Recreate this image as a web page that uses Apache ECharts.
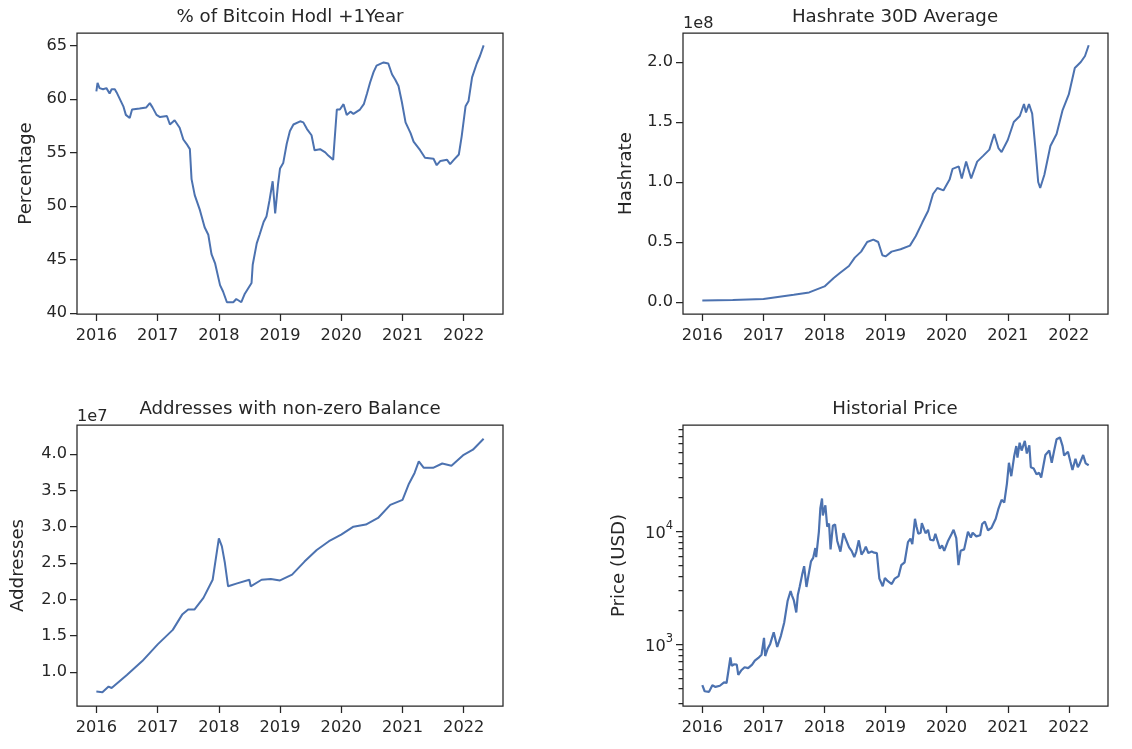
<!DOCTYPE html>
<html><head><meta charset="utf-8">
<script src="https://cdn.jsdelivr.net/npm/echarts@6/dist/echarts.min.js"></script>
<style>html,body{margin:0;padding:0;background:#fff}#c{width:1132px;height:749px}</style>
</head><body><div id="c"></div>
<script>
// ---------- data ----------
const yearTickLabels = ['2016','2017','2018','2019','2020','2021','2022'];

const hodlDates = ['2016-01-01','2016-01-08','2016-01-20','2016-02-10','2016-03-01','2016-03-20','2016-04-01','2016-04-20','2016-05-01','2016-06-10','2016-06-25','2016-07-18','2016-08-01','2016-09-15','2016-10-25','2016-11-15','2016-12-01','2016-12-25','2017-01-15','2017-02-25','2017-03-15','2017-04-12','2017-05-12','2017-06-03','2017-06-22','2017-07-12','2017-07-22','2017-08-10','2017-09-10','2017-10-08','2017-10-30','2017-11-18','2017-12-10','2018-01-08','2018-01-26','2018-02-18','2018-03-28','2018-04-15','2018-05-15','2018-06-05','2018-07-15','2018-07-22','2018-08-15','2018-09-01','2018-09-25','2018-10-12','2018-10-30','2018-11-18','2018-12-03','2018-12-20','2019-01-01','2019-01-20','2019-02-10','2019-03-01','2019-03-22','2019-05-01','2019-05-20','2019-06-10','2019-07-08','2019-07-26','2019-08-28','2019-09-28','2019-10-16','2019-11-14','2019-11-25','2019-12-06','2019-12-24','2020-01-15','2020-02-03','2020-02-25','2020-03-14','2020-04-22','2020-05-15','2020-06-03','2020-06-21','2020-07-12','2020-07-30','2020-09-10','2020-10-08','2020-10-30','2020-11-18','2020-12-08','2020-12-28','2021-01-19','2021-02-18','2021-03-08','2021-04-16','2021-05-15','2021-07-05','2021-07-24','2021-08-15','2021-09-24','2021-10-12','2021-11-03','2021-12-03','2021-12-20','2022-01-12','2022-01-30','2022-02-20','2022-03-20','2022-04-08','2022-04-30'];
const hodlValues = [60.7,61.5,61.0,60.9,61.0,60.5,60.9,60.9,60.6,59.3,58.5,58.2,59.0,59.1,59.2,59.6,59.2,58.5,58.3,58.4,57.6,58.0,57.3,56.2,55.8,55.3,52.5,51.0,49.6,48.0,47.3,45.5,44.6,42.6,42.0,41.0,41.0,41.3,41.0,41.8,42.8,44.5,46.5,47.3,48.5,49.0,50.5,52.3,49.3,52.0,53.5,54.0,55.8,57.0,57.6,57.9,57.8,57.2,56.6,55.2,55.3,55.0,54.7,54.3,54.3,59.0,59.0,59.5,58.5,58.8,58.6,59.0,59.5,60.5,61.5,62.5,63.1,63.4,63.3,62.3,61.8,61.2,59.7,57.8,56.8,56.0,55.2,54.5,54.4,53.8,54.2,54.3,53.9,54.3,54.8,56.5,59.3,59.8,62.0,63.3,64.0,65.0];
const hodlTicks = [40,45,50,55,60,65];

const hashDates = ['2016-01-01','2016-07-01','2017-01-01','2017-07-01','2017-10-01','2018-01-01','2018-02-25','2018-04-01','2018-05-27','2018-07-01','2018-08-08','2018-09-13','2018-10-20','2018-11-18','2018-12-13','2019-01-01','2019-02-06','2019-04-01','2019-05-27','2019-07-01','2019-08-08','2019-09-13','2019-10-12','2019-11-07','2019-12-13','2020-01-19','2020-02-06','2020-03-14','2020-04-01','2020-04-27','2020-05-27','2020-07-02','2020-08-08','2020-09-13','2020-10-12','2020-11-07','2020-11-25','2021-01-01','2021-02-06','2021-03-14','2021-04-08','2021-04-20','2021-05-08','2021-05-27','2021-06-14','2021-07-02','2021-07-14','2021-08-08','2021-09-13','2021-10-20','2021-11-25','2022-01-01','2022-02-06','2022-03-14','2022-04-08','2022-04-30'];
const hashValues = [1.2e6,1.6e6,2.5e6,6e6,8e6,13e6,20e6,24e6,30e6,37e6,42e6,50e6,52e6,50e6,39e6,38e6,42e6,44e6,47e6,55e6,66e6,76e6,90e6,95e6,93e6,102e6,111e6,113e6,103e6,117e6,103e6,117e6,122e6,127e6,140e6,128e6,125e6,135e6,150e6,155e6,165e6,158e6,165e6,157e6,130e6,100e6,95e6,106e6,130e6,140e6,160e6,173e6,195e6,200e6,205e6,214e6];
const hashTicks = [0, 0.5e8, 1.0e8, 1.5e8, 2.0e8];

const addrDates = ['2016-01-01','2016-02-06','2016-03-14','2016-04-01','2016-07-01','2016-10-01','2017-01-01','2017-04-01','2017-05-27','2017-07-02','2017-08-08','2017-10-01','2017-11-25','2018-01-01','2018-01-19','2018-02-06','2018-02-25','2018-04-20','2018-07-02','2018-07-10','2018-09-13','2018-11-07','2019-01-01','2019-03-14','2019-05-27','2019-08-08','2019-10-20','2020-01-01','2020-03-14','2020-05-27','2020-08-08','2020-10-20','2021-01-01','2021-02-06','2021-03-14','2021-04-08','2021-05-08','2021-07-02','2021-08-26','2021-10-20','2022-01-01','2022-02-25','2022-04-30'];
const addrValues = [7.3e6,7.2e6,8.0e6,7.8e6,9.6e6,11.5e6,13.8e6,15.8e6,17.9e6,18.6e6,18.6e6,20.2e6,22.7e6,28.4e6,27.3e6,25.0e6,21.8e6,22.2e6,22.7e6,21.8e6,22.7e6,22.8e6,22.6e6,23.4e6,25.2e6,26.8e6,28.0e6,28.9e6,30.0e6,30.3e6,31.2e6,33.0e6,33.7e6,35.8e6,37.4e6,39.0e6,38.1e6,38.1e6,38.7e6,38.4e6,39.9e6,40.6e6,42.1e6];
const addrTicks = [1.0e7,1.5e7,2.0e7,2.5e7,3.0e7,3.5e7,4.0e7];

const priceDates = ['2016-01-01','2016-01-15','2016-01-25','2016-02-10','2016-03-01','2016-03-20','2016-04-15','2016-05-10','2016-05-25','2016-06-05','2016-06-17','2016-06-25','2016-07-10','2016-07-25','2016-08-03','2016-08-20','2016-09-10','2016-10-01','2016-10-25','2016-11-10','2016-12-01','2016-12-20','2017-01-04','2017-01-11','2017-01-25','2017-02-10','2017-03-03','2017-03-24','2017-04-15','2017-05-05','2017-05-25','2017-06-12','2017-06-20','2017-07-01','2017-07-16','2017-07-25','2017-08-05','2017-08-20','2017-09-01','2017-09-15','2017-09-25','2017-10-12','2017-10-25','2017-11-07','2017-11-12','2017-11-28','2017-12-07','2017-12-17','2017-12-22','2018-01-06','2018-01-17','2018-01-28','2018-02-06','2018-02-20','2018-03-05','2018-03-18','2018-04-06','2018-04-24','2018-05-05','2018-05-28','2018-06-12','2018-06-28','2018-07-10','2018-07-25','2018-08-10','2018-08-25','2018-09-05','2018-09-20','2018-10-10','2018-10-25','2018-11-10','2018-11-20','2018-11-25','2018-12-15','2018-12-28','2019-01-15','2019-02-07','2019-02-25','2019-03-20','2019-04-05','2019-04-25','2019-05-15','2019-05-30','2019-06-10','2019-06-26','2019-07-05','2019-07-16','2019-07-30','2019-08-06','2019-08-28','2019-09-12','2019-09-25','2019-10-15','2019-10-26','2019-11-22','2019-12-05','2019-12-18','2020-01-08','2020-01-30','2020-02-12','2020-02-28','2020-03-12','2020-03-25','2020-04-15','2020-05-08','2020-05-25','2020-06-05','2020-06-27','2020-07-20','2020-08-01','2020-08-17','2020-09-05','2020-09-25','2020-10-21','2020-11-05','2020-11-25','2020-12-11','2020-12-27','2021-01-08','2021-01-22','2021-02-08','2021-02-21','2021-02-28','2021-03-13','2021-03-25','2021-04-13','2021-04-25','2021-05-10','2021-05-19','2021-06-05','2021-06-22','2021-07-08','2021-07-20','2021-08-14','2021-09-06','2021-09-21','2021-10-05','2021-10-20','2021-11-09','2021-11-25','2021-12-04','2021-12-27','2022-01-10','2022-01-23','2022-02-10','2022-02-24','2022-03-05','2022-03-28','2022-04-12','2022-04-21','2022-04-30'];
const priceValues = [430,380,390,375,430,415,425,455,450,575,760,640,660,655,530,580,620,610,655,710,750,800,1130,780,900,1000,1270,940,1180,1550,2400,2950,2700,2450,1900,2700,3200,4100,4900,3200,3900,5400,5800,7100,5900,9800,16000,19500,13800,17000,11000,11700,6900,11200,11500,8200,6600,9600,9800,7200,6700,5900,6600,8300,6200,6700,7300,6400,6600,6450,6400,4500,3800,3250,3850,3600,3400,3800,4000,5000,5300,8000,8600,7700,12900,11000,9500,9700,11800,9600,10300,8400,8300,9500,7000,7500,6700,8100,9400,10300,8700,5000,6700,6900,9900,8800,9700,9000,9200,11600,12200,10200,10700,12900,15600,19000,18000,26500,40500,30800,46000,57000,45000,61000,52000,63500,49000,58000,37000,36000,32000,33000,30000,47500,52000,40500,51500,65500,68000,57000,47000,50800,41800,35000,44000,37000,39000,47500,40000,41500,38500];
const priceTicks = [1e3, 1e4];
const priceMinorTicks = [300,400,500,600,700,800,900,2000,3000,4000,5000,6000,7000,8000,9000,20000,30000,40000,50000,60000,70000,80000,90000];

// ---------- helpers ----------
const TXT = '#262626', FONT = 'DejaVu Sans', LINE = '#4c72b0';
const ts = s => Date.parse(s + 'T00:00:00Z');
const yearTicks = yearTickLabels.map(y => Date.UTC(+y, 0, 1));
const pairs = (d, v) => d.map((s, i) => [ts(s), v[i]]);
const tickStyle = { color: TXT, width: 1.25 };
const TICK_FS = 16.2, LABEL_FS = 18.2;
const labelStyle = { color: TXT, fontSize: TICK_FS, fontFamily: FONT };

const grids = [
  { left: 77, top: 33, width: 426, height: 281 },
  { left: 683, top: 33, width: 425, height: 281 },
  { left: 77, top: 425, width: 426, height: 281 },
  { left: 683, top: 425, width: 425, height: 281 }
].map(g => Object.assign({ show: true, borderColor: TXT, borderWidth: 1.25, backgroundColor: 'transparent' }, g));

function xAxis(gi, dates) {
  const t0 = ts(dates[0]), t1 = ts(dates[dates.length - 1]), pad = (t1 - t0) * 0.05;
  return {
    type: 'value', gridIndex: gi, min: t0 - pad, max: t1 + pad, scale: true, position: 'bottom',
    axisLine: { show: false, onZero: false }, splitLine: { show: false },
    axisTick: { show: true, inside: false, length: 7, lineStyle: tickStyle, customValues: yearTicks },
    axisLabel: Object.assign({ customValues: yearTicks, margin: 14,
      formatter: v => String(new Date(v).getUTCFullYear()) }, labelStyle)
  };
}
function yAxis(gi, min, max, ticks, fmt, name, gap) {
  return {
    type: 'value', gridIndex: gi, min, max, position: 'left',
    axisLine: { show: false, onZero: false }, splitLine: { show: false },
    axisTick: { show: true, inside: false, length: 7, lineStyle: tickStyle, customValues: ticks },
    axisLabel: Object.assign({ customValues: ticks, margin: 10, formatter: fmt }, labelStyle),
    name, nameLocation: 'middle', nameGap: gap, nameRotate: 90,
    nameTextStyle: { color: TXT, fontSize: LABEL_FS, fontFamily: FONT }
  };
}
function line(xi, yi, data, w) {
  return { type: 'line', xAxisIndex: xi, yAxisIndex: yi, data, showSymbol: false, symbol: 'none',
    lineStyle: { color: LINE, width: w || 2 }, itemStyle: { color: LINE }, animation: false };
}
function title(text, left, top, size, align) {
  return { text, left, top, textAlign: align || 'center', padding: 0,
    textStyle: { color: TXT, fontSize: size, fontWeight: 'normal', fontFamily: FONT } };
}

const option = {
  animation: false,
  backgroundColor: '#ffffff',
  grid: grids,
  title: [
    title('% of Bitcoin Hodl +1Year', 290, 8, LABEL_FS),
    title('Hashrate 30D Average', 895, 8, LABEL_FS),
    title('Addresses with non-zero Balance', 290, 400, LABEL_FS),
    title('Historial Price', 895, 400, LABEL_FS),
    title('1e8', 683, 16, TICK_FS, 'left'),
    title('1e7', 77, 409, TICK_FS, 'left')
  ],
  xAxis: [xAxis(0, hodlDates), xAxis(1, hashDates), xAxis(2, addrDates), xAxis(3, priceDates)],
  yAxis: [
    yAxis(0, 39.9, 66.15, hodlTicks, v => String(v), 'Percentage', 42),
    yAxis(1, -0.1e8, 2.242e8, hashTicks, v => (v / 1e8).toFixed(1), 'Hashrate', 48),
    yAxis(2, 0.532e7, 4.40e7, addrTicks, v => (v / 1e7).toFixed(1), 'Addresses', 50),
    {
      type: 'log', gridIndex: 3, min: 281, max: 87700, position: 'left',
      axisLine: { show: false, onZero: false }, splitLine: { show: false },
      axisTick: { show: true, inside: false, length: 7, lineStyle: tickStyle, customValues: priceTicks },
      axisLabel: { customValues: priceTicks, margin: 10, color: TXT, fontFamily: FONT,
        formatter: v => '{b|10}{s|' + Math.round(Math.log10(v)) + '}',
        rich: { b: { fontSize: TICK_FS, fontFamily: FONT, color: TXT, verticalAlign: 'bottom', lineHeight: 22 },
                s: { fontSize: 11.5, fontFamily: FONT, color: TXT, verticalAlign: 'top', lineHeight: 12 } } },
      name: 'Price (USD)', nameLocation: 'middle', nameGap: 55, nameRotate: 90,
      nameTextStyle: { color: TXT, fontSize: LABEL_FS, fontFamily: FONT }
    },
    {
      type: 'log', gridIndex: 3, min: 281, max: 87700, position: 'left',
      axisLine: { show: false, onZero: false }, splitLine: { show: false },
      axisTick: { show: true, inside: false, length: 4.5, lineStyle: tickStyle, customValues: priceMinorTicks },
      axisLabel: { show: false }
    }
  ],
  series: [
    line(0, 0, pairs(hodlDates, hodlValues)),
    line(1, 1, pairs(hashDates, hashValues)),
    line(2, 2, pairs(addrDates, addrValues)),
    line(3, 3, pairs(priceDates, priceValues), 2.2)
  ]
};
const chart = echarts.init(document.getElementById('c'), null, { renderer: 'canvas' });
chart.setOption(option);
</script></body></html>
